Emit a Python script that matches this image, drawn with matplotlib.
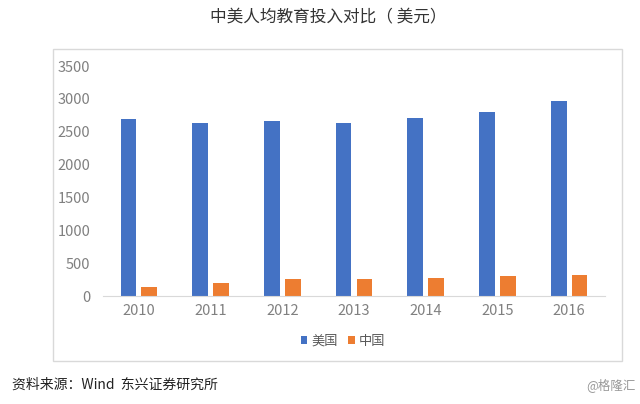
import matplotlib
matplotlib.use("Agg")
import matplotlib.pyplot as plt
from matplotlib.patches import Rectangle
import numpy as np

plt.rcParams['font.family'] = ['Noto Sans CJK SC', 'DejaVu Sans']

years = ['2010', '2011', '2012', '2013', '2014', '2015', '2016']
usa = [2700, 2640, 2670, 2640, 2715, 2795, 2970]
china = [130, 195, 255, 265, 275, 310, 312]
series_names = ['美国', '中国']
title = '中美人均教育投入对比（ 美元）'
source = '资料来源：Wind  东兴证券研究所'
watermark = '@格隆汇'

W, H = 640, 404
fig = plt.figure(figsize=(W / 100, H / 100), dpi=100)
fig.patch.set_facecolor('white')

# chart frame
frame = Rectangle((53 / W, 1 - 361 / H), (622 - 53) / W, (361 - 49) / H,
                  transform=fig.transFigure, facecolor='none',
                  edgecolor='#d9d9d9', linewidth=1.0, zorder=-1)
fig.patches.append(frame)

ax = fig.add_axes([103 / W, 1 - 296 / H, (605 - 103) / W, (296 - 66) / H])
ax.set_facecolor('none')
x = np.arange(len(years))
bw = 0.22
ax.bar(x - 0.145, usa, width=bw, color='#4472C4', label=series_names[0])
ax.bar(x + 0.145, china, width=bw, color='#ED7D31', label=series_names[1])

ax.set_xlim(-0.5, len(years) - 0.5)
ax.set_ylim(0, 3500)
ax.set_yticks(range(0, 3501, 500))
ax.set_xticks(x)
ax.set_xticklabels(years)
for s in ['top', 'right', 'left']:
    ax.spines[s].set_visible(False)
ax.spines['bottom'].set_color('#d9d9d9')
ax.tick_params(axis='both', length=0, colors='#808080', labelsize=10.5)
ax.tick_params(axis='y', pad=9)
ax.tick_params(axis='x', pad=6)

fig.text(328 / W, 1 - 18 / H, title, ha='center', va='center',
         fontsize=12, color='#333333')

leg = fig.legend(loc='center', bbox_to_anchor=(343 / W, 1 - 341 / H), ncol=2,
                 frameon=False, fontsize=9.5, handlelength=0.5, handleheight=0.5,
                 handletextpad=0.3, columnspacing=0.8, labelcolor='#595959')

fig.text(12 / W, 1 - 385 / H, source, ha='left', va='center',
         fontsize=10, color='#222222', style='italic')
fig.text(636 / W, 1 - 385 / H, watermark, ha='right', va='center',
         fontsize=9, color='#999999')

fig.savefig('out.png', dpi=100, facecolor='white')
